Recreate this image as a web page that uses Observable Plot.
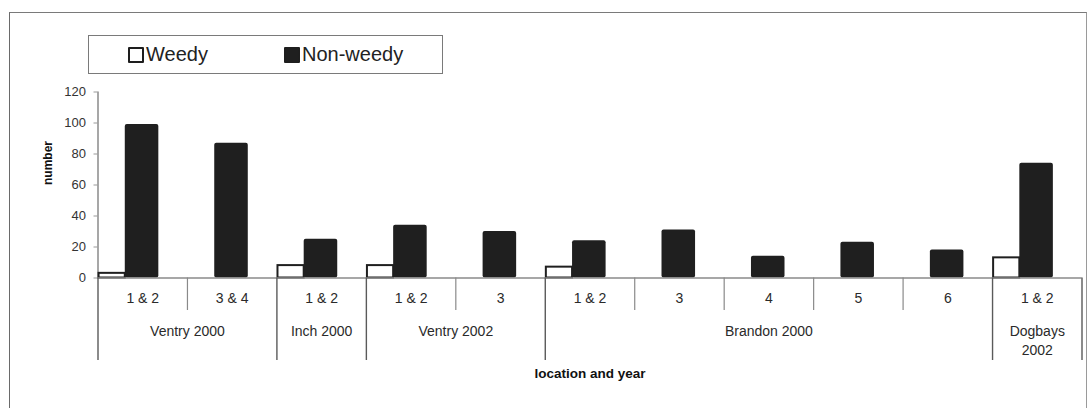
<!DOCTYPE html>
<html>
<head>
<meta charset="utf-8">
<script src="https://cdn.jsdelivr.net/npm/d3@7"></script>
<script src="https://cdn.jsdelivr.net/npm/@observablehq/plot@0.6"></script>
<style>
  body { margin: 0; background: #fff; font-family: "Liberation Sans", Arial, sans-serif; }
  #wrap { position: relative; width: 1091px; height: 408px; overflow: hidden; background: #fff; }
  #frame { position: absolute; left: 9px; top: 12px; width: 1076px; height: 430px;
           border-left: 1.5px solid #6a6a6a; border-top: 1.5px solid #7a7a7a; border-right: 1.5px solid #9a9a9a; }
  #legend { position: absolute; left: 88px; top: 35px; width: 353px; height: 37px;
            border: 1px solid #7a7a7a; background: #fff; }
  .item { position: absolute; top: 0; height: 37px; display: flex; align-items: center;
          font-size: 20px; color: #222; }
  .sw { width: 12px; height: 12px; border: 2px solid #1e1e1e; margin-right: 2px; border-radius: 1px; }
</style>
</head>
<body>
<div id="wrap">
  <div id="chart"></div>
  <div id="frame"></div>
  <div id="legend"></div>
</div>
<script>
// ---- data ----
const groups = ["Ventry 2000", "Ventry 2000", "Inch 2000", "Ventry 2002", "Ventry 2002",
                "Brandon 2000", "Brandon 2000", "Brandon 2000", "Brandon 2000", "Brandon 2000",
                "Dogbays 2002"];
const sites = ["1 & 2", "3 & 4", "1 & 2", "1 & 2", "3", "1 & 2", "3", "4", "5", "6", "1 & 2"];
const weedy = [3, 0, 8, 8, 0, 7, 0, 0, 0, 0, 13];
const nonWeedy = [99, 87, 25, 34, 30, 24, 31, 14, 23, 18, 74];
const yTicks = [0, 20, 40, 60, 80, 100, 120];
const seriesNames = ["Weedy", "Non-weedy"];

// ---- derived tables ----
const data = sites.map((s, i) => ({i, site: s, group: groups[i], weedy: weedy[i], nonWeedy: nonWeedy[i]}));
const spans = [];
groups.forEach((g, i) => {
  if (i === 0 || g !== groups[i - 1]) spans.push({name: g, start: i, end: i + 1});
  else spans[spans.length - 1].end = i + 1;
});
const n = sites.length;
const bounds = d3.range(n + 1).map(i => ({i, long: i === 0 || i === n || groups[i] !== groups[i - 1]}));

const font = "'Liberation Sans', Arial, sans-serif";
const dark = "#1f1f1f";

const chart = Plot.plot({
  width: 1091,
  height: 408,
  marginLeft: 97.5,
  marginRight: 9.5,
  marginTop: 91.5,
  marginBottom: 130.5,
  style: {fontFamily: font, background: "transparent", overflow: "visible"},
  x: {domain: [0, n], axis: null},
  y: {domain: [0, 120], axis: null},
  marks: [
    // y axis
    Plot.ruleX([0], {y1: 0, y2: 120, stroke: "#8a8a8a", strokeWidth: 1.5}),
    Plot.axisY({ticks: yTicks, tickSize: 4, tickPadding: 8, fontSize: 13, stroke: "#999", color: "#333", label: null}),
    // bars
    Plot.rectY(data.filter(d => d.weedy > 0), {
      x1: d => d.i + 0.012, x2: d => d.i + 0.305, y1: 0, y2: "weedy",
      fill: "white", stroke: dark, strokeWidth: 2
    }),
    Plot.rectY(data, {
      x1: d => d.i + 0.305, x2: d => d.i + 0.68, y1: 0, y2: "nonWeedy",
      fill: dark, rx: 2
    }),
    // x axis baseline
    Plot.ruleY([0], {stroke: "#8a8a8a", strokeWidth: 1.5}),
    // category boundary ticks
    Plot.ruleX(bounds.filter(d => !d.long), {x: "i", y1: 0, y2: 0, insetBottom: -32.5, stroke: "#8a8a8a", strokeWidth: 1.2}),
    Plot.ruleX(bounds.filter(d => d.long), {x: "i", y1: 0, y2: 0, insetBottom: -82.5, stroke: "#5a5a5a", strokeWidth: 1.4}),
    // site labels
    Plot.text(data, {x: d => d.i + 0.5, y: 0, text: "site", dy: 21, fontSize: 14, fill: "#2a2a2a"}),
    // group labels (wrap long names that span a single category)
    Plot.text(spans, {
      x: d => (d.start + d.end) / 2, y: 0,
      text: d => (d.end - d.start === 1 && d.name.length > 10) ? d.name.replace(" ", "\n") : d.name,
      lineAnchor: "top", lineHeight: 1.36, dy: 44, fontSize: 14, fill: "#2a2a2a"
    }),
    // axis titles
    Plot.text(["location and year"], {text: d => d, frameAnchor: "bottom", dy: 100, fontSize: 13.5, fontWeight: "bold", fill: "#111"}),
    Plot.text(["number"], {text: d => d, frameAnchor: "left", rotate: -90, dx: -50, fontSize: 12, fontWeight: "bold", fill: "#111"})
  ]
});
document.getElementById("chart").appendChild(chart);

// ---- legend ----
const legend = document.getElementById("legend");
const lefts = [39, 195];
seriesNames.forEach((name, k) => {
  const item = document.createElement("div");
  item.className = "item";
  item.style.left = lefts[k] + "px";
  const sw = document.createElement("div");
  sw.className = "sw";
  sw.style.background = k === 0 ? "#fff" : dark;
  const label = document.createElement("span");
  label.textContent = name;
  item.appendChild(sw);
  item.appendChild(label);
  legend.appendChild(item);
});
</script>
</body>
</html>
